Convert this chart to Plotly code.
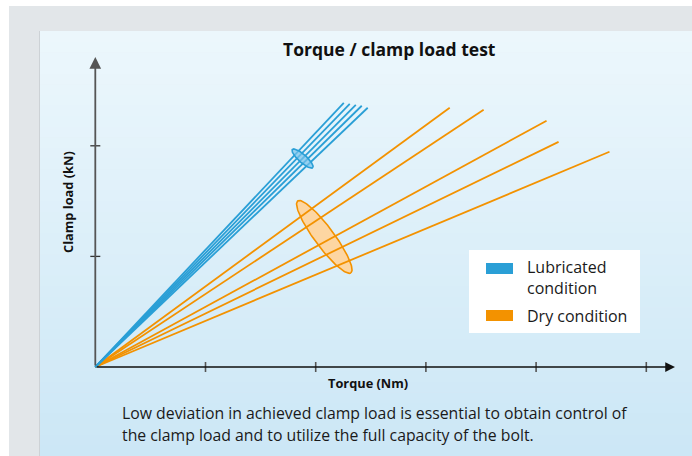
import numpy as np
import plotly.graph_objects as go

# ---------------- data ----------------
title_text = "Torque / clamp load test"
x_label = "Torque (Nm)"
y_label = "Clamp load (kN)"
caption_lines = [
    "Low deviation in achieved clamp load is essential to obtain control of",
    "the clamp load and to utilize the full capacity of the bolt.",
]
legend_labels = ["Lubricated<br>condition", "Dry condition"]

x_ticks = [1, 2, 3, 4, 5]
y_ticks = [1, 2]

# end points of each test line (all start at origin)
lub_torque = [2.255, 2.309, 2.364, 2.418, 2.472]
lub_clamp = [2.389, 2.380, 2.371, 2.362, 2.344]
dry_torque = [3.216, 3.524, 4.095, 4.204, 4.666]
dry_clamp = [2.344, 2.326, 2.226, 2.036, 1.946]

# scatter ellipses: centre, semi-axes, angle (deg)
lub_ellipse = dict(cx=1.881, cy=1.885, a=0.124, b=0.036, ang=-41.8)
dry_ellipse = dict(cx=2.078, cy=1.176, a=0.405, b=0.088, ang=-53.4)

BLUE = "#2a9fd6"
ORANGE = "#f39200"

# ---------------- layout geometry ----------------
W, H = 692, 456
L, R, T, B = 85, 684, 50, 377
OX, OY = 95.3, 367.0
UX, UY = 110.2, 110.6
x0 = -(OX - L) / UX
x1 = x0 + (R - L) / UX
y0 = -(B - OY) / UY
y1 = y0 + (B - T) / UY


def px(X):
    return (X - L) / (R - L)


def py(Y):
    return (B - Y) / (B - T)


def ellipse_pts(e, n=120):
    t = np.linspace(0, 2 * np.pi, n)
    th = np.deg2rad(e["ang"])
    xs = e["cx"] + e["a"] * np.cos(t) * np.cos(th) - e["b"] * np.sin(t) * np.sin(th)
    ys = e["cy"] + e["a"] * np.cos(t) * np.sin(th) + e["b"] * np.sin(t) * np.cos(th)
    return xs, ys


def fan(xe, ye):
    xs, ys = [], []
    for a, b in zip(xe, ye):
        xs += [0, a, None]
        ys += [0, b, None]
    return xs, ys


fig = go.Figure()

# dry ellipse (under lines)
ex, ey = ellipse_pts(dry_ellipse)
fig.add_trace(go.Scatter(x=ex, y=ey, mode="lines", fill="toself",
                         fillcolor="#fdd6a2", line=dict(color=ORANGE, width=1.6),
                         hoverinfo="skip", showlegend=False))

xs, ys = fan(dry_torque, dry_clamp)
fig.add_trace(go.Scatter(x=xs, y=ys, mode="lines", name="Dry condition",
                         line=dict(color=ORANGE, width=1.8), showlegend=False))
xs, ys = fan(lub_torque, lub_clamp)
fig.add_trace(go.Scatter(x=xs, y=ys, mode="lines", name="Lubricated condition",
                         line=dict(color=BLUE, width=1.8), showlegend=False))

# lubricated ellipse (over lines, translucent)
ex, ey = ellipse_pts(lub_ellipse)
fig.add_trace(go.Scatter(x=ex, y=ey, mode="lines", fill="toself",
                         fillcolor="rgba(120,195,235,0.7)", line=dict(color=BLUE, width=1.6),
                         hoverinfo="skip", showlegend=False))

shapes = []
# outer grey frame
shapes.append(dict(type="rect", xref="paper", yref="paper", layer="below",
                   x0=px(9), x1=px(W), y0=py(H), y1=py(6),
                   fillcolor="#e2e6e9", line=dict(width=0)))
# inner gradient panel
nb = 40
top_c = np.array([236, 247, 252])
bot_c = np.array([204, 231, 246])
for i in range(nb):
    f = i / (nb - 1)
    c = top_c + (bot_c - top_c) * f
    ya = 31 + (H - 31) * i / nb
    yb = 31 + (H - 31) * (i + 1) / nb + 0.6
    shapes.append(dict(type="rect", xref="paper", yref="paper", layer="below",
                       x0=px(40), x1=px(W), y0=py(yb), y1=py(ya),
                       fillcolor="rgb(%d,%d,%d)" % tuple(c.round()), line=dict(width=0)))
# subtle left shadow
shapes.append(dict(type="line", xref="paper", yref="paper", layer="below",
                   x0=px(39.5), x1=px(39.5), y0=py(H), y1=py(31),
                   line=dict(color="#cdd2d6", width=1)))

# tick marks crossing the axes
for v in x_ticks:
    shapes.append(dict(type="line", xref="x", yref="y", ysizemode="pixel", yanchor=0,
                       x0=v, x1=v, y0=-5, y1=5, line=dict(color="#555555", width=1.6)))
for v in y_ticks:
    shapes.append(dict(type="line", yref="y", xref="x", xsizemode="pixel", xanchor=0,
                       y0=v, y1=v, x0=-5, x1=5, line=dict(color="#333333", width=1.3)))

# legend box and swatches
shapes.append(dict(type="rect", xref="paper", yref="paper",
                   x0=px(469), x1=px(640), y0=py(333), y1=py(250),
                   fillcolor="white", line=dict(width=0)))
shapes.append(dict(type="rect", xref="paper", yref="paper",
                   x0=px(486), x1=px(513), y0=py(274), y1=py(263),
                   fillcolor=BLUE, line=dict(width=0)))
shapes.append(dict(type="rect", xref="paper", yref="paper",
                   x0=px(486), x1=px(513), y0=py(321), y1=py(310),
                   fillcolor=ORANGE, line=dict(width=0)))

annotations = []
# axis arrows
annotations.append(dict(x=(675 - OX) / UX, y=0, ax=0, ay=0, xref="x", yref="y",
                        axref="x", ayref="y", text="", showarrow=True,
                        arrowhead=2, arrowsize=1.3, arrowwidth=1.5, arrowcolor="#111111"))
annotations.append(dict(x=0, y=(OY - 57) / UY, ax=0, ay=0, xref="x", yref="y",
                        axref="x", ayref="y", text="", showarrow=True,
                        arrowhead=2, arrowsize=1.3, arrowwidth=1.8, arrowcolor="#555555"))

FONT = "Open Sans"
annotations.append(dict(x=px(389), y=py(49), xref="paper", yref="paper", text="<b>%s</b>" % title_text,
                        showarrow=False, xanchor="center", yanchor="middle",
                        font=dict(family=FONT, size=17.5, color="#111111")))
annotations.append(dict(x=px(368), y=py(383), xref="paper", yref="paper", text="<b>%s</b>" % x_label,
                        showarrow=False, xanchor="center", yanchor="middle",
                        font=dict(family=FONT, size=12.8, color="#111111")))
annotations.append(dict(x=px(68), y=py(202), xref="paper", yref="paper", text="<b>%s</b>" % y_label,
                        showarrow=False, xanchor="center", yanchor="middle", textangle=-90,
                        font=dict(family=FONT, size=12.8, color="#111111")))
for i, line in enumerate(caption_lines):
    annotations.append(dict(x=px(120), y=py(413 + 22 * i), xref="paper", yref="paper", text=line,
                            showarrow=False, xanchor="left", yanchor="middle",
                            font=dict(family=FONT, size=15.8, color="#1a1a1a")))
annotations.append(dict(x=px(525), y=py(277), xref="paper", yref="paper", text=legend_labels[0],
                        showarrow=False, xanchor="left", yanchor="middle", align="left",
                        font=dict(family=FONT, size=16, color="#1a1a1a")))
annotations.append(dict(x=px(525), y=py(316), xref="paper", yref="paper", text=legend_labels[1],
                        showarrow=False, xanchor="left", yanchor="middle", align="left",
                        font=dict(family=FONT, size=16, color="#1a1a1a")))

fig.update_layout(
    width=W, height=H,
    margin=dict(l=L, r=W - R, t=T, b=H - B, pad=0),
    paper_bgcolor="white", plot_bgcolor="rgba(0,0,0,0)",
    xaxis=dict(range=[x0, x1], visible=False, fixedrange=True),
    yaxis=dict(range=[y0, y1], visible=False, fixedrange=True),
    shapes=shapes, annotations=annotations, showlegend=False,
)

fig.write_html("out.html", config={"displayModeBar": False},
               post_script="document.body.style.margin='0';document.body.style.overflow='hidden';")
